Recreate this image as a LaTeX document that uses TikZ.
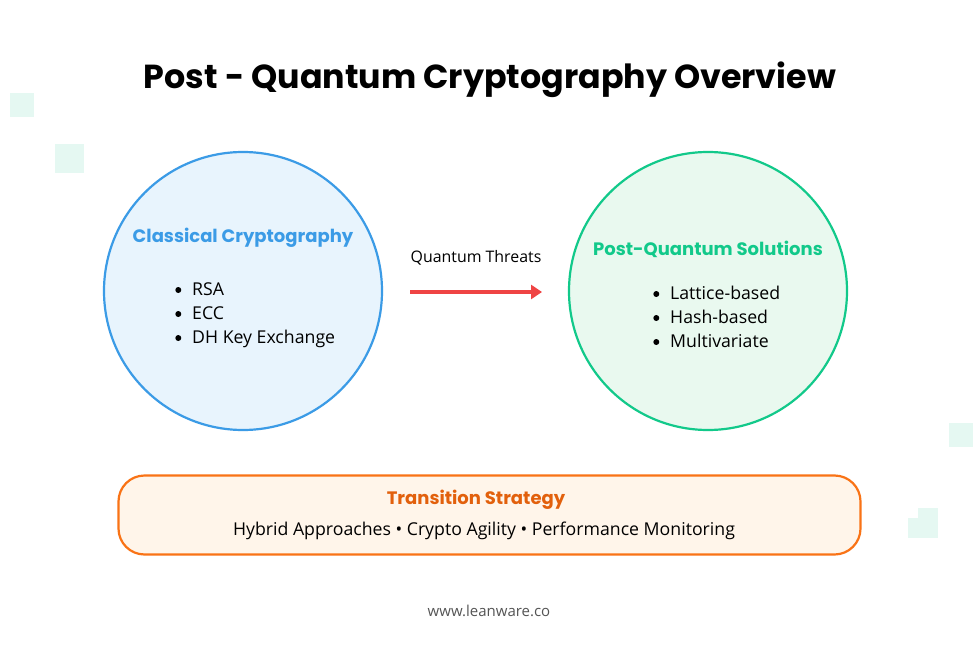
\documentclass[tikz,border=0pt]{standalone}
\usepackage{fontspec}
\setmainfont{Open Sans}
\newfontfamily\headfont{Poppins}
\usepackage{tikz}
\usetikzlibrary{arrows.meta}

\definecolor{classblue}{HTML}{3B9BE6}
\definecolor{classfill}{HTML}{E8F4FD}
\definecolor{pqgreen}{HTML}{12C98A}
\definecolor{pqfill}{HTML}{E9F9EF}
\definecolor{threatred}{HTML}{EF4444}
\definecolor{transorange}{HTML}{F97316}
\definecolor{transtext}{HTML}{E2600C}
\definecolor{transfill}{HTML}{FFF5EA}
\definecolor{mint}{HTML}{E5F8F2}
\definecolor{footgray}{HTML}{555555}

\tikzset{
  circ/.style={circle, line width=2.2pt, minimum size=278pt, inner sep=0pt},
  head/.style={font=\headfont\bfseries\fontsize{18}{21}\selectfont},
  item/.style={anchor=base west, inner sep=0pt, font=\fontsize{17.7}{21}\selectfont},
  dot/.style={fill=black},
  deco/.style={fill=mint, draw=none}
}

\begin{document}
\begin{tikzpicture}[x=1pt, y=-1pt]
\useasboundingbox[fill=white] (0,0) rectangle (980,653);

% background squares
\fill[deco] (10,93) rectangle (34,117);
\fill[deco] (55,144) rectangle (84,173);
\fill[deco] (949,423) rectangle (973,447);
\fill[deco] (908,518) rectangle (927,538);
\fill[deco] (918,508) rectangle (938,538);

\node (title) at (490,80) {\headfont\bfseries\fontsize{33.3}{40}\selectfont Post - Quantum Cryptography Overview};

% the two circles
\node[circ, draw=classblue, fill=classfill] (classical) at (243,291) {};
\node[circ, draw=pqgreen, fill=pqfill] (pq) at (708,291) {};

\node[head, text=classblue] (classhead) at (243,238) {Classical Cryptography};
\node[item] (rsa) at (192,295) {RSA};
\node[item] (ecc) at (192,319) {ECC};
\node[item] (dh) at (192,343) {DH Key Exchange};
\fill[dot] ([xshift=-13.7pt, yshift=5pt]rsa.base west) circle (3pt);
\fill[dot] ([xshift=-13.7pt, yshift=5pt]ecc.base west) circle (3pt);
\fill[dot] ([xshift=-13.7pt, yshift=5pt]dh.base west) circle (3pt);

\node[head, text=pqgreen] (pqhead) at (708,249) {Post-Quantum Solutions};
\node[item] (lattice) at (670,299) {Lattice-based};
\node[item] (hash) at (670,323) {Hash-based};
\node[item] (multi) at (670,347) {Multivariate};
\fill[dot] ([xshift=-13.7pt, yshift=5pt]lattice.base west) circle (3pt);
\fill[dot] ([xshift=-13.7pt, yshift=5pt]hash.base west) circle (3pt);
\fill[dot] ([xshift=-13.7pt, yshift=5pt]multi.base west) circle (3pt);

% threat arrow
\coordinate (from) at (410,292);
\coordinate (to) at (542,292);
\draw[threatred, line width=3.5pt, -{Triangle[length=11pt, width=14pt]}] (from) -- (to);
\node[font=\fontsize{15.9}{19}\selectfont] (threat) at (476,258) {Quantum Threats};

% transition box
\node[draw=transorange, fill=transfill, line width=2.2pt, rounded corners=26pt,
      minimum width=742pt, minimum height=79pt] (trans) at (489.5,515) {};
\node[head, text=transtext] (transhead) at (476,500) {Transition Strategy};
\node[font=\fontsize{17.7}{21}\selectfont] (transtxt) at (484,531) {Hybrid Approaches \textbullet{} Crypto Agility \textbullet{} Performance Monitoring};

\node[text=footgray, font=\fontsize{15}{18}\selectfont] (footer) at (489,611) {www.leanware.co};
\end{tikzpicture}
\end{document}
